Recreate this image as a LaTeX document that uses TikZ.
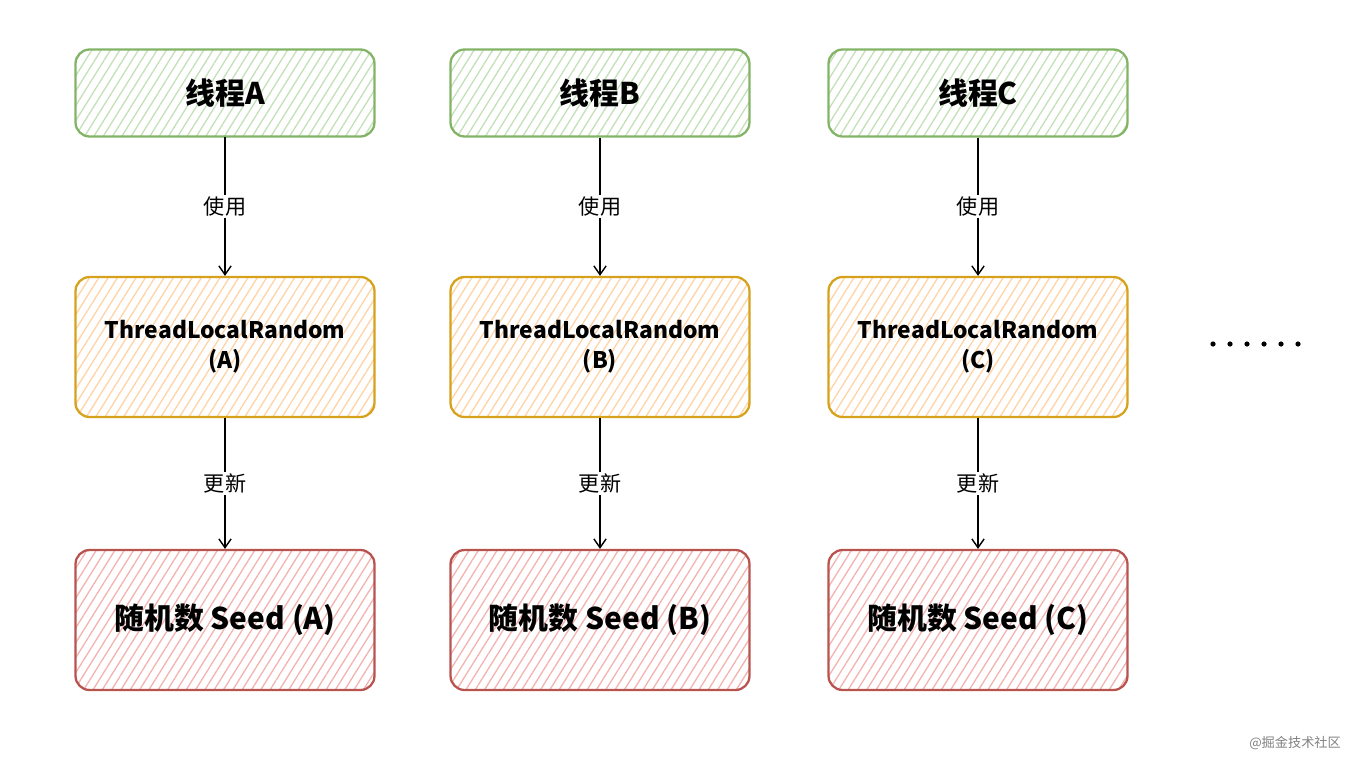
\documentclass[tikz,border=0pt]{standalone}
\usepackage{fontspec}
\setmainfont{Noto Sans CJK SC}
\usetikzlibrary{arrows.meta,patterns.meta}
\definecolor{threadline}{HTML}{82B366}
\definecolor{threadfill}{HTML}{C4E0B8}
\definecolor{tlrline}{HTML}{D6A21C}
\definecolor{tlrfill}{HTML}{FFD3A6}
\definecolor{seedline}{HTML}{B85450}
\definecolor{seedfill}{HTML}{F2B3B1}
\tikzset{
  box/.style={rounded corners=8pt, line width=1.3pt, minimum width=5.98cm, align=center},
  threadbox/.style={box, draw=threadline, minimum height=1.74cm,
    pattern={Lines[angle=58,distance=4.5pt,line width=0.75pt]}, pattern color=threadfill,
    font=\fontsize{17}{20}\selectfont\bfseries},
  tlrbox/.style={box, draw=tlrline, minimum height=2.8cm,
    pattern={Lines[angle=58,distance=4.5pt,line width=0.75pt]}, pattern color=tlrfill,
    font=\fontsize{13}{17}\selectfont\bfseries},
  seedbox/.style={box, draw=seedline, minimum height=2.8cm,
    pattern={Lines[angle=58,distance=4.5pt,line width=0.75pt]}, pattern color=seedfill,
    font=\fontsize{17}{20}\selectfont\bfseries},
  link/.style={draw, line width=0.8pt, -{Straight Barb[length=5pt,width=7pt]}},
  linklabel/.style={fill=white, inner sep=1pt, font=\fontsize{12}{14}\selectfont}
}
\begin{document}
\begin{tikzpicture}[x=0.02cm,y=-0.02cm]
\useasboundingbox (0,0) rectangle (1358,764);
% threads
\node[threadbox] (thA) at (225,93) {线程A};
\node[threadbox] (thB) at (600,93) {线程B};
\node[threadbox] (thC) at (978,93) {线程C};
% ThreadLocalRandom instances
\node[tlrbox] (tlrA) at (225,347) {ThreadLocalRandom\\(A)};
\node[tlrbox] (tlrB) at (600,347) {ThreadLocalRandom\\(B)};
\node[tlrbox] (tlrC) at (978,347) {ThreadLocalRandom\\(C)};
% seeds
\node[seedbox] (seedA) at (225,620) {随机数 Seed (A)};
\node[seedbox] (seedB) at (600,620) {随机数 Seed (B)};
\node[seedbox] (seedC) at (978,620) {随机数 Seed (C)};
% arrows
\draw[link] (thA) -- node[linklabel] {使用} (tlrA);
\draw[link] (thB) -- node[linklabel] {使用} (tlrB);
\draw[link] (thC) -- node[linklabel] {使用} (tlrC);
\draw[link] (tlrA) -- node[linklabel] {更新} (seedA);
\draw[link] (tlrB) -- node[linklabel] {更新} (seedB);
\draw[link] (tlrC) -- node[linklabel] {更新} (seedC);
% more threads
\foreach \i in {0,...,5}
  \fill (1213+17*\i,344) circle (2.6);
\node[text=gray, font=\fontsize{7.5}{9}\selectfont] (mark) at (1295,743) {@掘金技术社区};
\end{tikzpicture}
\end{document}
